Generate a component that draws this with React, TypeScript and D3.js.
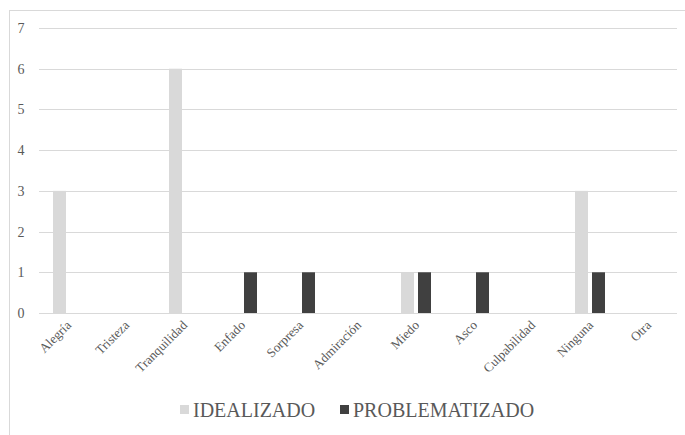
import React from "react";
import * as d3 from "d3";

const categories = [
  "Alegría", "Tristeza", "Tranquilidad", "Enfado", "Sorpresa", "Admiración",
  "Miedo", "Asco", "Culpabilidad", "Ninguna", "Otra",
];
const idealizado = [3, 0, 6, 0, 0, 0, 1, 0, 0, 3, 0];
const problematizado = [0, 0, 0, 1, 1, 0, 1, 1, 0, 1, 0];
const yTicks = [0, 1, 2, 3, 4, 5, 6, 7];
const seriesNames = ["IDEALIZADO", "PROBLEMATIZADO"];
const seriesColors = ["#d9d9d9", "#404040"];

const W = 685;
const H = 435;
const plot = { left: 39, right: 677, top: 28, bottom: 313 };
const font = "'Liberation Serif', 'DejaVu Serif', serif";

export default function App() {
  const x = d3.scaleBand<string>().domain(categories).range([plot.left, plot.right]);
  const y = d3.scaleLinear().domain([0, 7]).range([plot.bottom, plot.top]);
  const barW = 13;
  const gap = 4;
  const series = [idealizado, problematizado];

  return (
    <svg
      width={W}
      height={H}
      style={{ position: "absolute", left: 0, top: 0, background: "#fff", fontFamily: font }}
    >
      {/* frame */}
      <line x1={9.5} x2={9.5} y1={10} y2={H} stroke="#d9d9d9" strokeWidth={1} />
      <line x1={9} x2={W} y1={10.5} y2={10.5} stroke="#d9d9d9" strokeWidth={1} />

      {/* gridlines and y labels */}
      {yTicks.map((t) => (
        <g key={t}>
          <line
            x1={plot.left}
            x2={plot.right}
            y1={Math.round(y(t)) + 0.5}
            y2={Math.round(y(t)) + 0.5}
            stroke="#d9d9d9"
            strokeWidth={1}
          />
          <text
            x={21}
            y={y(t) + 5}
            textAnchor="middle"
            style={{ fontFamily: font, fontSize: 14 }}
            fill="#595959"
          >
            {t}
          </text>
        </g>
      ))}

      {/* bars */}
      {series.map((vals, si) =>
        vals.map((v, i) => {
          if (v <= 0) return null;
          const cx = (x(categories[i]) ?? 0) + x.bandwidth() / 2;
          const bx = si === 0 ? cx - gap / 2 - barW : cx + gap / 2;
          return (
            <rect
              key={`${si}-${i}`}
              x={bx}
              y={y(v)}
              width={barW}
              height={y(0) - y(v)}
              fill={seriesColors[si]}
            />
          );
        })
      )}

      {/* category labels, slanted 45° up to the left */}
      {categories.map((c) => {
        const cx = (x(c) ?? 0) + x.bandwidth() / 2;
        return (
          <text
            key={c}
            x={0}
            y={0}
            textAnchor="end"
            fill="#595959"
            style={{
              fontFamily: font,
              fontSize: 13,
              transform: `translate(${cx + 4}px, ${plot.bottom + 13}px) rotate(-45deg)`,
            }}
          >
            {c}
          </text>
        );
      })}

      {/* legend */}
      <rect x={180} y={405} width={9} height={9} fill={seriesColors[0]} />
      <text x={193} y={417} style={{ fontFamily: font, fontSize: 20 }} fill="#595959">
        {seriesNames[0]}
      </text>
      <rect x={340} y={405} width={9} height={9} fill={seriesColors[1]} />
      <text x={353} y={417} style={{ fontFamily: font, fontSize: 20 }} fill="#595959">
        {seriesNames[1]}
      </text>
    </svg>
  );
}
